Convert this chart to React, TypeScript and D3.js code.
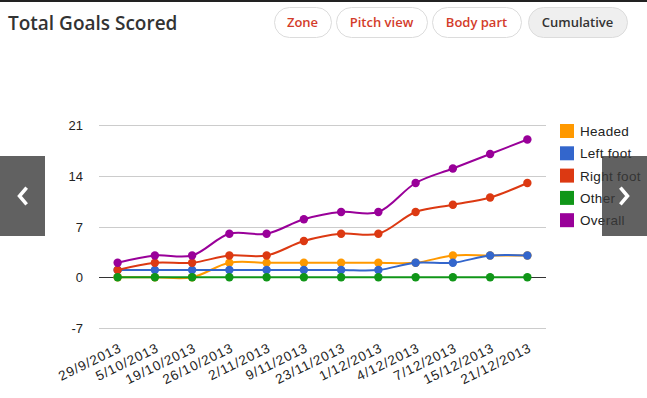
import { useEffect, useRef } from "react";
import * as d3 from "d3";

const dates = [
  "29/9/2013", "5/10/2013", "19/10/2013", "26/10/2013", "2/11/2013", "9/11/2013",
  "23/11/2013", "1/12/2013", "4/12/2013", "7/12/2013", "15/12/2013", "21/12/2013",
];
const headed = [0, 0, 0, 2, 2, 2, 2, 2, 2, 3, 3, 3];
const leftFoot = [1, 1, 1, 1, 1, 1, 1, 1, 2, 2, 3, 3];
const rightFoot = [1, 2, 2, 3, 3, 5, 6, 6, 9, 10, 11, 13];
const other = [0, 0, 0, 0, 0, 0, 0, 0, 0, 0, 0, 0];
const overall = [2, 3, 3, 6, 6, 8, 9, 9, 13, 15, 17, 19];
const yTicks = [-7, 0, 7, 14, 21];
const buttons = ["Zone", "Pitch view", "Body part", "Cumulative"];

const series = [
  { name: "Headed", values: headed, color: "#ff9900" },
  { name: "Left foot", values: leftFoot, color: "#3366cc" },
  { name: "Right foot", values: rightFoot, color: "#dc3912" },
  { name: "Other", values: other, color: "#109618" },
  { name: "Overall", values: overall, color: "#990099" },
];

const W = 647;
const H = 398;

const App = () => {
  const ref = useRef<SVGSVGElement>(null);

  useEffect(() => {
    const svg = d3.select(ref.current);
    svg.selectAll("*").remove();

    svg.append("rect").attr("width", W).attr("height", H).attr("fill", "#fff");
    svg.append("rect").attr("width", W).attr("height", 2).attr("fill", "#222");

    // header
    svg.append("text")
      .attr("x", 8).attr("y", 30)
      .attr("font-family", "Open Sans").attr("font-weight", 600)
      .attr("font-size", 19).attr("fill", "#333")
      .text("Total Goals Scored");

    const btnX = [274, 336, 432, 528];
    const btnW = [57, 91, 89, 99];
    buttons.forEach((b, i) => {
      const sel = b === "Cumulative";
      const g = svg.append("g").attr("transform", `translate(${btnX[i]},7)`);
      g.append("rect")
        .attr("x", 0.5).attr("y", 0.5)
        .attr("width", btnW[i]).attr("height", 30)
        .attr("rx", 15)
        .attr("fill", sel ? "#efefef" : "#fff")
        .attr("stroke", "#dcdcdc");
      g.append("text")
        .attr("x", btnW[i] / 2).attr("y", 20)
        .attr("text-anchor", "middle")
        .attr("font-family", "Open Sans").attr("font-weight", 600)
        .attr("font-size", 13)
        .attr("fill", sel ? "#333" : "#d33c2a")
        .text(b);
    });

    const x = d3.scaleBand().domain(dates).range([99, 546]);
    const y = d3.scaleLinear().domain([-7, 21]).range([328, 125]);
    const cx = (d: string) => (x(d) as number) + x.bandwidth() / 2;

    // grid
    svg.append("g")
      .selectAll("line")
      .data(yTicks)
      .join("line")
      .attr("x1", 99).attr("x2", 546)
      .attr("y1", (d) => Math.round(y(d)) + 0.5)
      .attr("y2", (d) => Math.round(y(d)) + 0.5)
      .attr("stroke", (d) => (d === 0 ? "#333" : "#ccc"));

    svg.append("g")
      .selectAll("text")
      .data(yTicks)
      .join("text")
      .attr("x", 83)
      .attr("y", (d) => y(d) + 5)
      .attr("text-anchor", "end")
      .attr("font-family", "Liberation Sans").attr("font-size", 13)
      .attr("fill", "#222")
      .text((d) => d);

    // x labels
    svg.append("g")
      .selectAll("text")
      .data(dates)
      .join("text")
      .attr("transform", (d) => `translate(${cx(d) + 5},${351}) rotate(-26)`)
      .attr("text-anchor", "end")
      .attr("font-family", "Liberation Sans").attr("font-size", 13.5)
      .style("letter-spacing", "0.9px")
      .attr("fill", "#222")
      .text((d) => d);

    const line = d3.line<number>()
      .x((_, i) => cx(dates[i]))
      .y((d) => y(d))
      .curve(d3.curveCatmullRom.alpha(0.5));

    series.forEach((s) => {
      const g = svg.append("g");
      g.append("path")
        .datum(s.values)
        .attr("fill", "none")
        .attr("stroke", s.color)
        .attr("stroke-width", 2)
        .attr("d", line);
      g.selectAll("circle")
        .data(s.values)
        .join("circle")
        .attr("cx", (_, i) => cx(dates[i]))
        .attr("cy", (d) => y(d))
        .attr("r", 4.2)
        .attr("fill", s.color);
    });

    // legend
    const lg = svg.append("g").attr("transform", "translate(560,124)");
    series.forEach((s, i) => {
      lg.append("rect")
        .attr("x", 0).attr("y", i * 22.3)
        .attr("width", 14).attr("height", 14)
        .attr("fill", s.color);
      lg.append("text")
        .attr("x", 20).attr("y", i * 22.3 + 12)
        .attr("font-family", "Liberation Sans").attr("font-size", 13.5)
        .style("letter-spacing", "0.3px")
        .attr("fill", "#222")
        .text(s.name);
    });

    // slider arrows
    const arrows = [
      { x0: 0, dir: -1 },
      { x0: 602, dir: 1 },
    ];
    arrows.forEach((a) => {
      svg.append("rect")
        .attr("x", a.x0).attr("y", 156)
        .attr("width", 45).attr("height", 80)
        .attr("fill", "#3a3a3a").attr("fill-opacity", 0.8);
      const c = a.x0 + 22.5;
      svg.append("path")
        .attr("d", `M${c - 3 * a.dir},${189} L${c + 3 * a.dir},${196} L${c - 3 * a.dir},${203}`)
        .attr("fill", "none").attr("stroke", "#fff").attr("stroke-width", 3.5)
        .attr("stroke-linecap", "square");
    });
  }, []);

  return (
    <svg
      ref={ref}
      width={W}
      height={H}
      style={{ position: "absolute", left: 0, top: 0 }}
    />
  );
};

export default App;
